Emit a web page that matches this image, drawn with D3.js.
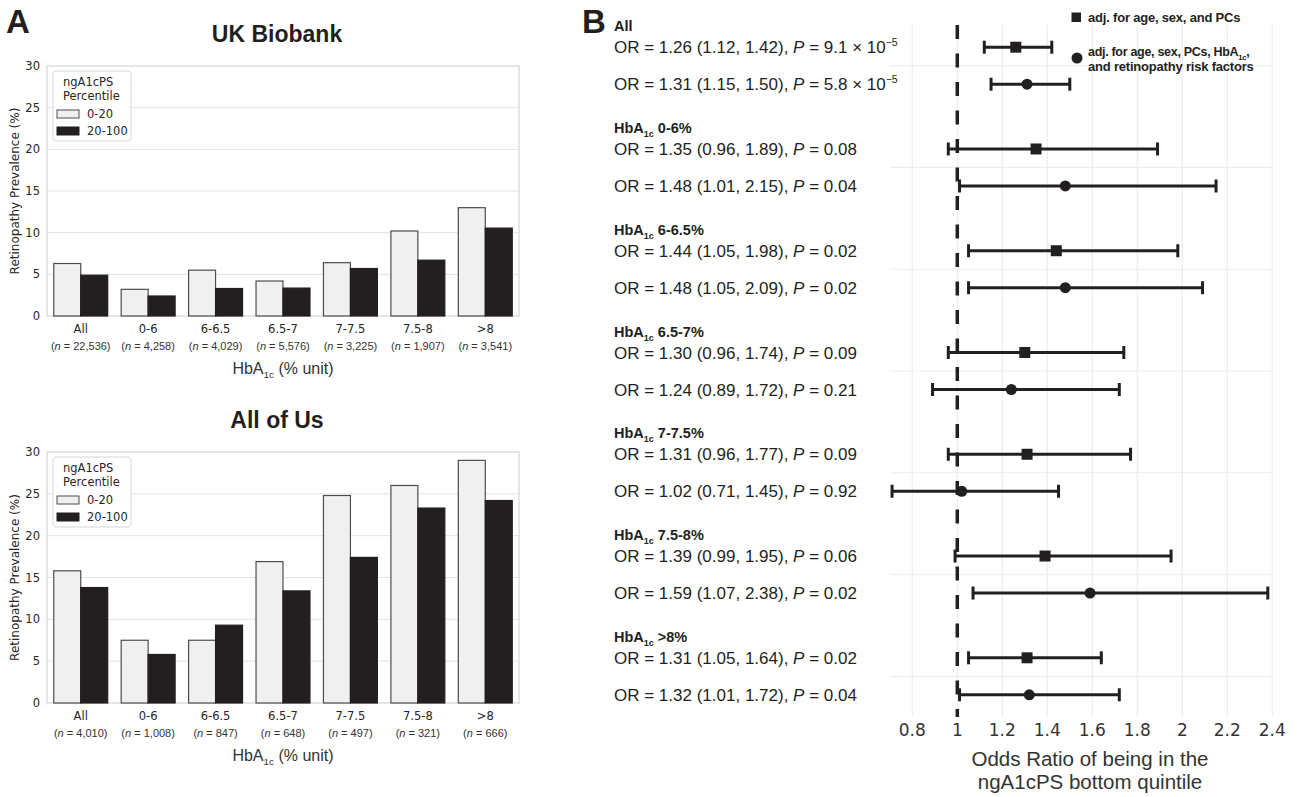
<html>
<head>
    <meta charset="utf-8">
    <script src="https://d3js.org/d3.v7.min.js"></script>
    <title>Retinopathy and ngA1cPS</title>
    <style>
        body { margin: 0; background: #fff; }
        .mpl { font-family: "DejaVu Sans", sans-serif; fill: #262626; }
        .arial { font-family: "Liberation Sans", Arial, sans-serif; fill: #231f20; }
    </style>
</head>
<body>
<svg id="fig" width="1299" height="797"></svg>
<script>
    // ---- panel A data (bar heights, %)
    const hbGroups = ["All", "0-6", "6-6.5", "6.5-7", "7-7.5", "7.5-8", ">8"];
    const pctGroups = ["0-20", "20-100"];
    const ukbN = ["22,536", "4,258", "4,029", "5,576", "3,225", "1,907", "3,541"];
    const ukbLow = [6.3, 3.2, 5.5, 4.2, 6.4, 10.2, 13.0];
    const ukbHigh = [4.9, 2.4, 3.3, 3.35, 5.7, 6.7, 10.55];
    const aouN = ["4,010", "1,008", "847", "648", "497", "321", "666"];
    const aouLow = [15.8, 7.5, 7.5, 16.9, 24.8, 26.0, 29.0];
    const aouHigh = [13.8, 5.8, 9.3, 13.4, 17.4, 23.3, 24.2];
    const prevTicks = [0, 5, 10, 15, 20, 25, 30];

    // ---- panel B data (odds ratios with 95% CI)
    const orGroups = ["All", "0-6%", "6-6.5%", "6.5-7%", "7-7.5%", "7.5-8%", ">8%"];
    const orBasic = [1.26, 1.35, 1.44, 1.30, 1.31, 1.39, 1.31];
    const loBasic = [1.12, 0.96, 1.05, 0.96, 0.96, 0.99, 1.05];
    const hiBasic = [1.42, 1.89, 1.98, 1.74, 1.77, 1.95, 1.64];
    const pBasic = ["9.1 × 10^−5", "0.08", "0.02", "0.09", "0.09", "0.06", "0.02"];
    const orFull = [1.31, 1.48, 1.48, 1.24, 1.02, 1.59, 1.32];
    const loFull = [1.15, 1.01, 1.05, 0.89, 0.71, 1.07, 1.01];
    const hiFull = [1.50, 2.15, 2.09, 1.72, 1.45, 2.38, 1.72];
    const pFull = ["5.8 × 10^−5", "0.04", "0.02", "0.21", "0.92", "0.02", "0.04"];
    const orTicks = [0.8, 1, 1.2, 1.4, 1.6, 1.8, 2, 2.2, 2.4];

    const svg = d3.select("#fig");
    const dark = "#231f20";

    // text with an "HbA1c"-style subscript
    function hba1c(sel, before, after) {
        sel.append("tspan").text(before + "HbA");
        sel.append("tspan").attr("font-size", "62%").attr("dy", 4).text("1c");
        sel.append("tspan").attr("dy", -4).text(after);
    }

    // ---------------- panel A ----------------
    function drawBars(top, bottom, title, titleY, low, high, n) {
        const left = 47, right = 519;
        const g = svg.append("g");
        const x = d3.scaleBand().domain(hbGroups).range([left, right])
                    .paddingInner(0.2).paddingOuter(0.1);
        const xs = d3.scaleBand().domain(pctGroups).range([0, x.bandwidth()]);
        const y = d3.scaleLinear().domain([0, 30]).range([bottom, top]);

        g.append("text").attr("class", "arial")
         .attr("x", 277).attr("y", titleY)
         .attr("text-anchor", "middle").attr("font-size", 23).attr("font-weight", "bold")
         .text(title);

        // grid + frame
        g.selectAll("line.grid").data(prevTicks.slice(1, -1)).join("line")
         .attr("class", "grid")
         .attr("x1", left).attr("x2", right)
         .attr("y1", d => y(d)).attr("y2", d => y(d))
         .attr("stroke", "#e3e3e3").attr("stroke-width", 1);
        g.append("rect").attr("x", left).attr("y", top)
         .attr("width", right - left).attr("height", bottom - top)
         .attr("fill", "none").attr("stroke", "#d6d6d6").attr("stroke-width", 1.2);

        const rows = hbGroups.map((c, i) => ({ c: c, v: [low[i], high[i]], n: n[i] }));
        const grp = g.selectAll("g.cat").data(rows).join("g")
                     .attr("class", "cat")
                     .attr("transform", d => "translate(" + x(d.c) + ",0)");
        grp.selectAll("rect").data(d => d.v.map((v, j) => ({ k: pctGroups[j], v: v })))
           .join("rect")
           .attr("x", d => xs(d.k))
           .attr("width", xs.bandwidth())
           .attr("y", d => y(d.v))
           .attr("height", d => y(0) - y(d.v))
           .attr("fill", d => d.k == "0-20" ? "#eff0ef" : dark)
           .attr("stroke", d => d.k == "0-20" ? "#4d4d4d" : dark)
           .attr("stroke-width", 1.2);

        // y axis labels
        g.selectAll("text.yt").data(prevTicks).join("text")
         .attr("class", "yt mpl")
         .attr("x", 40).attr("y", d => y(d) + 4)
         .attr("text-anchor", "end").attr("font-size", 11.5)
         .text(d => d);
        g.append("text").attr("class", "mpl")
         .attr("transform", "translate(19," + (top + bottom) / 2 + ") rotate(-90)")
         .attr("text-anchor", "middle").attr("font-size", 12)
         .text("Retinopathy Prevalence (%)");

        // x axis labels
        grp.append("text").attr("class", "mpl")
           .attr("x", x.bandwidth() / 2).attr("y", bottom + 17)
           .attr("text-anchor", "middle").attr("font-size", 11.5)
           .text(d => d.c);
        const nt = grp.append("text").attr("class", "arial")
           .attr("x", x.bandwidth() / 2).attr("y", bottom + 34)
           .attr("text-anchor", "middle").attr("font-size", 11)
           .style("fill", "#333");
        nt.append("tspan").text("(");
        nt.append("tspan").attr("font-style", "italic").text("n");
        nt.append("tspan").text(d => " = " + d.n + ")");

        const xt = g.append("text").attr("class", "arial")
                    .attr("x", (left + right) / 2).attr("y", bottom + 58)
                    .attr("text-anchor", "middle").attr("font-size", 16)
                    .style("fill", "#333");
        hba1c(xt, "", " (% unit)");

        // legend
        const lg = g.append("g").attr("transform", "translate(53," + (top + 5) + ")");
        lg.append("rect").attr("width", 78).attr("height", 70).attr("rx", 3)
          .attr("fill", "#fff").attr("fill-opacity", 0.85)
          .attr("stroke", "#d6d6d6");
        lg.append("text").attr("class", "mpl").attr("x", 10).attr("y", 15)
          .attr("font-size", 11.5).text("ngA1cPS");
        lg.append("text").attr("class", "mpl").attr("x", 10).attr("y", 29)
          .attr("font-size", 11.5).text("Percentile");
        const li = lg.selectAll("g.li").data(pctGroups).join("g")
                     .attr("class", "li")
                     .attr("transform", (d, i) => "translate(4," + (39 + i * 17) + ")");
        li.append("rect").attr("width", 22).attr("height", 8)
          .attr("fill", d => d == "0-20" ? "#eff0ef" : dark)
          .attr("stroke", d => d == "0-20" ? "#4d4d4d" : dark);
        li.append("text").attr("class", "mpl").attr("x", 30).attr("y", 8)
          .attr("font-size", 11.5).text(d => d);
    }

    svg.append("text").attr("class", "arial").attr("x", 6).attr("y", 33)
       .attr("font-size", 33).attr("font-weight", "bold").text("A");
    drawBars(66, 316, "UK Biobank", 42, ukbLow, ukbHigh, ukbN);
    drawBars(452, 703, "All of Us", 428, aouLow, aouHigh, aouN);

    // ---------------- panel B ----------------
    const fx = d3.scaleLinear().domain([0.7, 2.4]).range([889.8, 1272.3]);
    const fy = d3.scalePoint().domain(orGroups).range([25, 717]).padding(0.4);
    const rowOff = 18.5;
    const fb = svg.append("g");

    svg.append("text").attr("class", "arial").attr("x", 582).attr("y", 33)
       .attr("font-size", 33).attr("font-weight", "bold").text("B");

    fb.selectAll("line.vg").data(orTicks).join("line")
      .attr("class", "vg")
      .attr("x1", d => fx(d)).attr("x2", d => fx(d))
      .attr("y1", 25).attr("y2", 717)
      .attr("stroke", "#ededed").attr("stroke-width", 1.2);
    fb.selectAll("line.hg").data(orGroups).join("line")
      .attr("class", "hg")
      .attr("x1", 889.8).attr("x2", 1272.3)
      .attr("y1", d => fy(d)).attr("y2", d => fy(d))
      .attr("stroke", "#ededed").attr("stroke-width", 1.2);

    fb.append("line")
      .attr("x1", fx(1)).attr("x2", fx(1)).attr("y1", 25).attr("y2", 717)
      .attr("stroke", dark).attr("stroke-width", 3.5)
      .attr("stroke-dasharray", "14,14.5");

    const est = [];
    orGroups.forEach((gname, i) => {
        est.push({ g: gname, i: i, off: -rowOff, or: orBasic[i], lo: loBasic[i], hi: hiBasic[i], p: pBasic[i], shape: "sq" });
        est.push({ g: gname, i: i, off: rowOff, or: orFull[i], lo: loFull[i], hi: hiFull[i], p: pFull[i], shape: "ci" });
    });

    const er = fb.selectAll("g.est").data(est).join("g")
                 .attr("class", "est")
                 .attr("transform", d => "translate(0," + (fy(d.g) + d.off) + ")");
    er.append("line").attr("x1", d => fx(d.lo)).attr("x2", d => fx(d.hi))
      .attr("stroke", dark).attr("stroke-width", 3);
    er.append("line").attr("x1", d => fx(d.lo)).attr("x2", d => fx(d.lo))
      .attr("y1", -6.5).attr("y2", 6.5).attr("stroke", dark).attr("stroke-width", 3);
    er.append("line").attr("x1", d => fx(d.hi)).attr("x2", d => fx(d.hi))
      .attr("y1", -6.5).attr("y2", 6.5).attr("stroke", dark).attr("stroke-width", 3);
    er.filter(d => d.shape == "sq").append("rect")
      .attr("x", d => fx(d.or) - 5.5).attr("y", -5.5)
      .attr("width", 11).attr("height", 11).attr("fill", dark);
    er.filter(d => d.shape == "ci").append("circle")
      .attr("cx", d => fx(d.or)).attr("r", 5.5).attr("fill", dark);

    // row labels
    const lab = er.append("text").attr("class", "arial")
                  .attr("x", 614).attr("y", 6).attr("font-size", 17);
    lab.append("tspan").text(d => "OR = " + d.or.toFixed(2) + " (" + d.lo.toFixed(2) + ", " + d.hi.toFixed(2) + "), ");
    lab.append("tspan").attr("font-style", "italic").text("P");
    lab.append("tspan").text(d => " = " + d.p.split("^")[0]);
    lab.filter(d => d.p.includes("^")).append("tspan")
       .attr("font-size", "62%").attr("dy", -7)
       .text(d => d.p.split("^")[1]);

    orGroups.forEach((gname, i) => {
        const t = fb.append("text").attr("class", "arial")
                    .attr("x", 614).attr("y", fy(gname) - rowOff - 16)
                    .attr("font-size", 14.5).attr("font-weight", "bold");
        if (i == 0) t.text("All");
        else hba1c(t, "", " " + gname);
    });

    // x axis
    fb.selectAll("text.xt").data(orTicks).join("text")
      .attr("class", "xt mpl")
      .attr("x", d => fx(d)).attr("y", 736)
      .attr("text-anchor", "middle").attr("font-size", 17)
      .style("fill", "#333")
      .text(d => d);
    fb.append("text").attr("class", "arial")
      .attr("x", 1090).attr("y", 766).attr("text-anchor", "middle")
      .attr("font-size", 20.5).style("fill", "#333")
      .text("Odds Ratio of being in the");
    fb.append("text").attr("class", "arial")
      .attr("x", 1090).attr("y", 789).attr("text-anchor", "middle")
      .attr("font-size", 20.5).style("fill", "#333")
      .text("ngA1cPS bottom quintile");

    // legend (condensed bold text)
    const leg = fb.append("g");
    leg.append("rect").attr("x", 1071.5).attr("y", 12.5).attr("width", 9.5).attr("height", 9.5).attr("fill", dark);
    leg.append("text").attr("class", "arial").attr("x", 1088).attr("y", 22)
       .attr("font-size", 13).attr("font-weight", "bold").attr("letter-spacing", -0.2)
       .text("adj. for age, sex, and PCs");
    leg.append("circle").attr("cx", 1077).attr("cy", 58).attr("r", 5.5).attr("fill", dark);
    const l2 = leg.append("text").attr("class", "arial").attr("x", 1088).attr("y", 56)
                  .attr("font-size", 12.5).attr("font-weight", "bold").attr("letter-spacing", -0.3);
    hba1c(l2, "adj. for age, sex, PCs, ", ",");
    leg.append("text").attr("class", "arial").attr("x", 1088).attr("y", 70.5)
       .attr("font-size", 13).attr("font-weight", "bold").attr("letter-spacing", -0.2)
       .text("and retinopathy risk factors");
</script>
</body>
</html>
